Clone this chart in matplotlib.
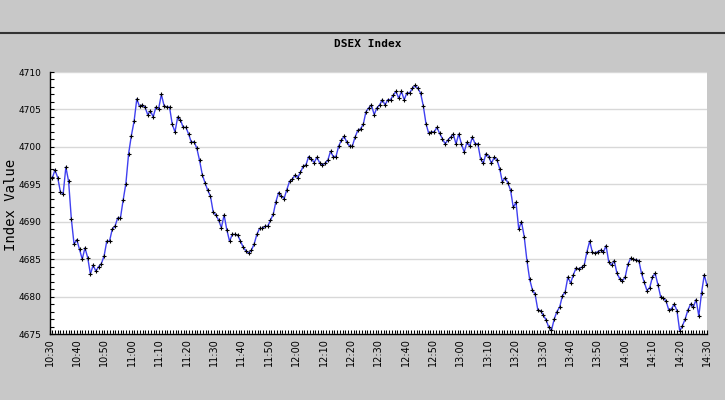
import numpy as np
import matplotlib
matplotlib.use('Agg')
import matplotlib.pyplot as plt
from matplotlib.lines import Line2D
from matplotlib.ticker import MultipleLocator

# DSEX index values, roughly one per minute from 10:30 to 14:30
values = [
    4695.8, 4695.8, 4696.9, 4695.9, 4694.0, 4693.7, 4697.3, 4695.4, 4690.4, 4687.0,
    4687.6, 4686.3, 4685.0, 4686.5, 4685.2, 4683.0, 4684.2, 4683.4, 4684.0, 4684.4,
    4685.4, 4687.4, 4687.4, 4689.0, 4689.4, 4690.5, 4690.5, 4692.9, 4695.1, 4699.1,
    4701.5, 4703.4, 4706.4, 4705.4, 4705.6, 4705.3, 4704.3, 4704.8, 4704.0, 4705.3,
    4705.1, 4707.0, 4705.5, 4705.3, 4705.3, 4703.0, 4702.0, 4704.0, 4703.6,
    4702.6, 4702.6, 4701.7, 4700.6, 4700.7, 4699.8, 4698.2, 4696.3, 4695.2, 4694.2,
    4693.4, 4691.3, 4690.9, 4690.2, 4689.2, 4690.9, 4688.9, 4687.4, 4688.3, 4688.3,
    4688.2, 4687.4, 4686.6, 4686.1, 4685.8, 4686.2, 4687.0, 4688.3, 4689.1, 4689.1,
    4689.4, 4689.4, 4690.2, 4691.0, 4692.7, 4693.9, 4693.4, 4693.1, 4694.3, 4695.4,
    4695.7, 4696.2, 4695.9, 4696.6, 4697.4, 4697.6, 4698.7, 4698.4, 4697.9, 4698.6,
    4697.9, 4697.6, 4697.8, 4698.2, 4699.4, 4698.7, 4698.7, 4700.1, 4700.9, 4701.4,
    4700.6, 4700.1, 4700.1, 4701.3, 4702.2, 4702.4, 4703.0, 4704.7, 4705.2, 4705.6,
    4704.3, 4705.2, 4705.6, 4706.3, 4705.6, 4706.3, 4706.3, 4706.9, 4707.4, 4706.5,
    4707.4, 4706.3, 4707.2, 4707.2, 4707.8, 4708.2, 4707.8, 4707.2, 4705.5, 4703.1,
    4701.8, 4702.0, 4702.0, 4702.6, 4701.8, 4701.1, 4700.4, 4700.9,
    4701.3, 4701.7, 4700.4, 4701.7, 4700.4, 4699.3, 4700.6, 4700.1, 4701.3, 4700.4,
    4700.4, 4698.4, 4697.8, 4699.1, 4698.7, 4697.8, 4698.6, 4698.3, 4697.1, 4695.3,
    4695.9, 4695.2, 4694.2, 4691.9, 4692.6, 4689.0, 4690.0, 4688.0, 4684.8, 4682.3,
    4680.9, 4680.3, 4678.2, 4678.1, 4677.5, 4676.9, 4675.9, 4675.5, 4677.0, 4678.0,
    4678.6, 4680.1, 4680.6, 4682.6, 4681.8, 4682.9, 4683.8, 4683.7, 4683.9,
    4684.2, 4686.0, 4687.4, 4685.9, 4685.8, 4686.0, 4686.2, 4685.9, 4686.8, 4684.6,
    4684.2, 4684.8, 4683.1, 4682.4, 4682.1, 4682.6, 4684.3, 4685.1, 4685.0, 4684.9,
    4684.8, 4683.1, 4681.9, 4680.8, 4681.2, 4682.6, 4683.1, 4681.6, 4680.0, 4679.8,
    4679.4, 4678.2, 4678.4, 4679.0, 4678.1, 4675.4, 4676.1, 4677.0, 4678.2, 4679.0,
    4678.6, 4679.6, 4677.4, 4680.5, 4682.9, 4681.5,
]

tick_labels = ['10:30', '10:40', '10:50', '11:00', '11:10', '11:20', '11:30',
               '11:40', '11:50', '12:00', '12:10', '12:20', '12:30', '12:40',
               '12:50', '13:00', '13:10', '13:20', '13:30', '13:40', '13:50',
               '14:00', '14:10', '14:20', '14:30']

# minutes after 10:30
minutes = np.linspace(0, 240, len(values))
tick_pos = np.arange(len(tick_labels)) * 10

bg = '#c8c8c8'
fig = plt.figure(figsize=(7.25, 4), dpi=100, facecolor=bg)
ax = fig.add_axes([49.5 / 725, 1 - 334 / 400, (707 - 49.5) / 725, (334 - 72) / 400])
ax.set_facecolor('white')

# dark rule across the top
fig.add_artist(Line2D([0, 1], [1 - 33 / 400] * 2, color='#333333', lw=1.5))
fig.text(368 / 725, 1 - 44 / 400, 'DSEX Index', ha='center', va='center',
         fontsize=8, fontweight='bold', family='DejaVu Sans Mono')

ax.plot(minutes, values, color='#4040f0', lw=1.0, marker='+', ms=3,
        mec='black', mew=0.8)

ax.set_xlim(0, 240)
ax.set_ylim(4675, 4710)
ax.set_xticks(tick_pos)
ax.set_xticklabels(tick_labels, rotation=90, fontsize=7)
ax.xaxis.set_minor_locator(MultipleLocator(1))
ax.yaxis.set_major_locator(MultipleLocator(5))
ax.yaxis.set_minor_locator(MultipleLocator(1))
ax.tick_params(axis='both', which='both', direction='in', length=3, width=0.8)
ax.tick_params(axis='y', labelsize=6.5, pad=6)
ax.tick_params(axis='x', pad=3)
ax.yaxis.grid(True, color='#d8d8d8', lw=1)
ax.set_axisbelow(True)

for s in ['top', 'right']:
    ax.spines[s].set_visible(False)
for s in ['left', 'bottom']:
    ax.spines[s].set_color('black')
    ax.spines[s].set_linewidth(1)

fig.text(11 / 725, 1 - 205 / 400, 'Index Value', rotation=90, ha='center',
         va='center', fontsize=10, family='DejaVu Sans Mono')

fig.savefig('out.png', dpi=100, facecolor=bg)
